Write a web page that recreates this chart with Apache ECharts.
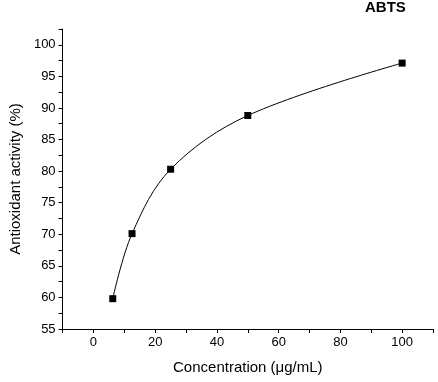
<!DOCTYPE html>
<html><head><meta charset="utf-8">
<script src="https://cdn.jsdelivr.net/npm/echarts@6/dist/echarts.min.js"></script>
<style>html,body{margin:0;padding:0;background:#fff}#c{width:438px;height:382px}</style>
</head><body><div id="c"></div>
<script>
var concentrations = [6.25, 12.5, 25, 50, 100];
var activity = [59.8, 70.1, 80.3, 88.8, 97.1];
var xTicks = [0, 20, 40, 60, 80, 100];
var yTicks = [55, 60, 65, 70, 75, 80, 85, 90, 95, 100];

var pts = concentrations.map(function(c, i){ return [c, activity[i]]; });
var chart = echarts.init(document.getElementById('c'));
var font = 'Liberation Sans, Arial, sans-serif';
chart.setOption({
  animation: false,
  title: {text: 'ABTS', left: 365, top: 0, padding: 0, textStyle: {fontFamily: font, fontWeight: 'bold', fontSize: 15, color: '#000'}},
  grid: {left: 61, right: 5, top: 29, bottom: 53, containLabel: false},
  xAxis: {
    type: 'value', min: -10, max: 110, interval: 10,
    name: 'Concentration (μg/mL)', nameLocation: 'middle', nameGap: 31,
    nameTextStyle: {fontFamily: font, fontSize: 15, color: '#000'},
    axisLine: {onZero: false, lineStyle: {color: '#000', width: 1}},
    axisTick: {show: true, inside: false, length: 4, lineStyle: {color: '#000'}},
    axisLabel: {fontFamily: font, fontSize: 13, color: '#000', margin: 7,
      formatter: function(v){ return xTicks.indexOf(v) >= 0 ? String(v) : ''; }},
    splitLine: {show: false}
  },
  yAxis: {
    type: 'value', min: 55, max: 102.5, interval: 2.5,
    name: 'Antioxidant activity (%)', nameLocation: 'middle', nameGap: 31,
    nameTextStyle: {fontFamily: font, fontSize: 15, color: '#000'},
    axisLine: {show: true, onZero: false, lineStyle: {color: '#000', width: 1}},
    axisTick: {show: true, inside: false, length: 4, lineStyle: {color: '#000'}},
    axisLabel: {fontFamily: font, fontSize: 13, color: '#000', margin: 7,
      formatter: function(v){ return yTicks.indexOf(v) >= 0 ? String(v) : ''; }},
    splitLine: {show: false}
  },
  series: [{
    type: 'line', data: pts, smooth: 0.35,
    symbol: 'rect', symbolSize: 7,
    itemStyle: {color: '#000'},
    lineStyle: {color: '#000', width: 1}
  }]
});
</script></body></html>
